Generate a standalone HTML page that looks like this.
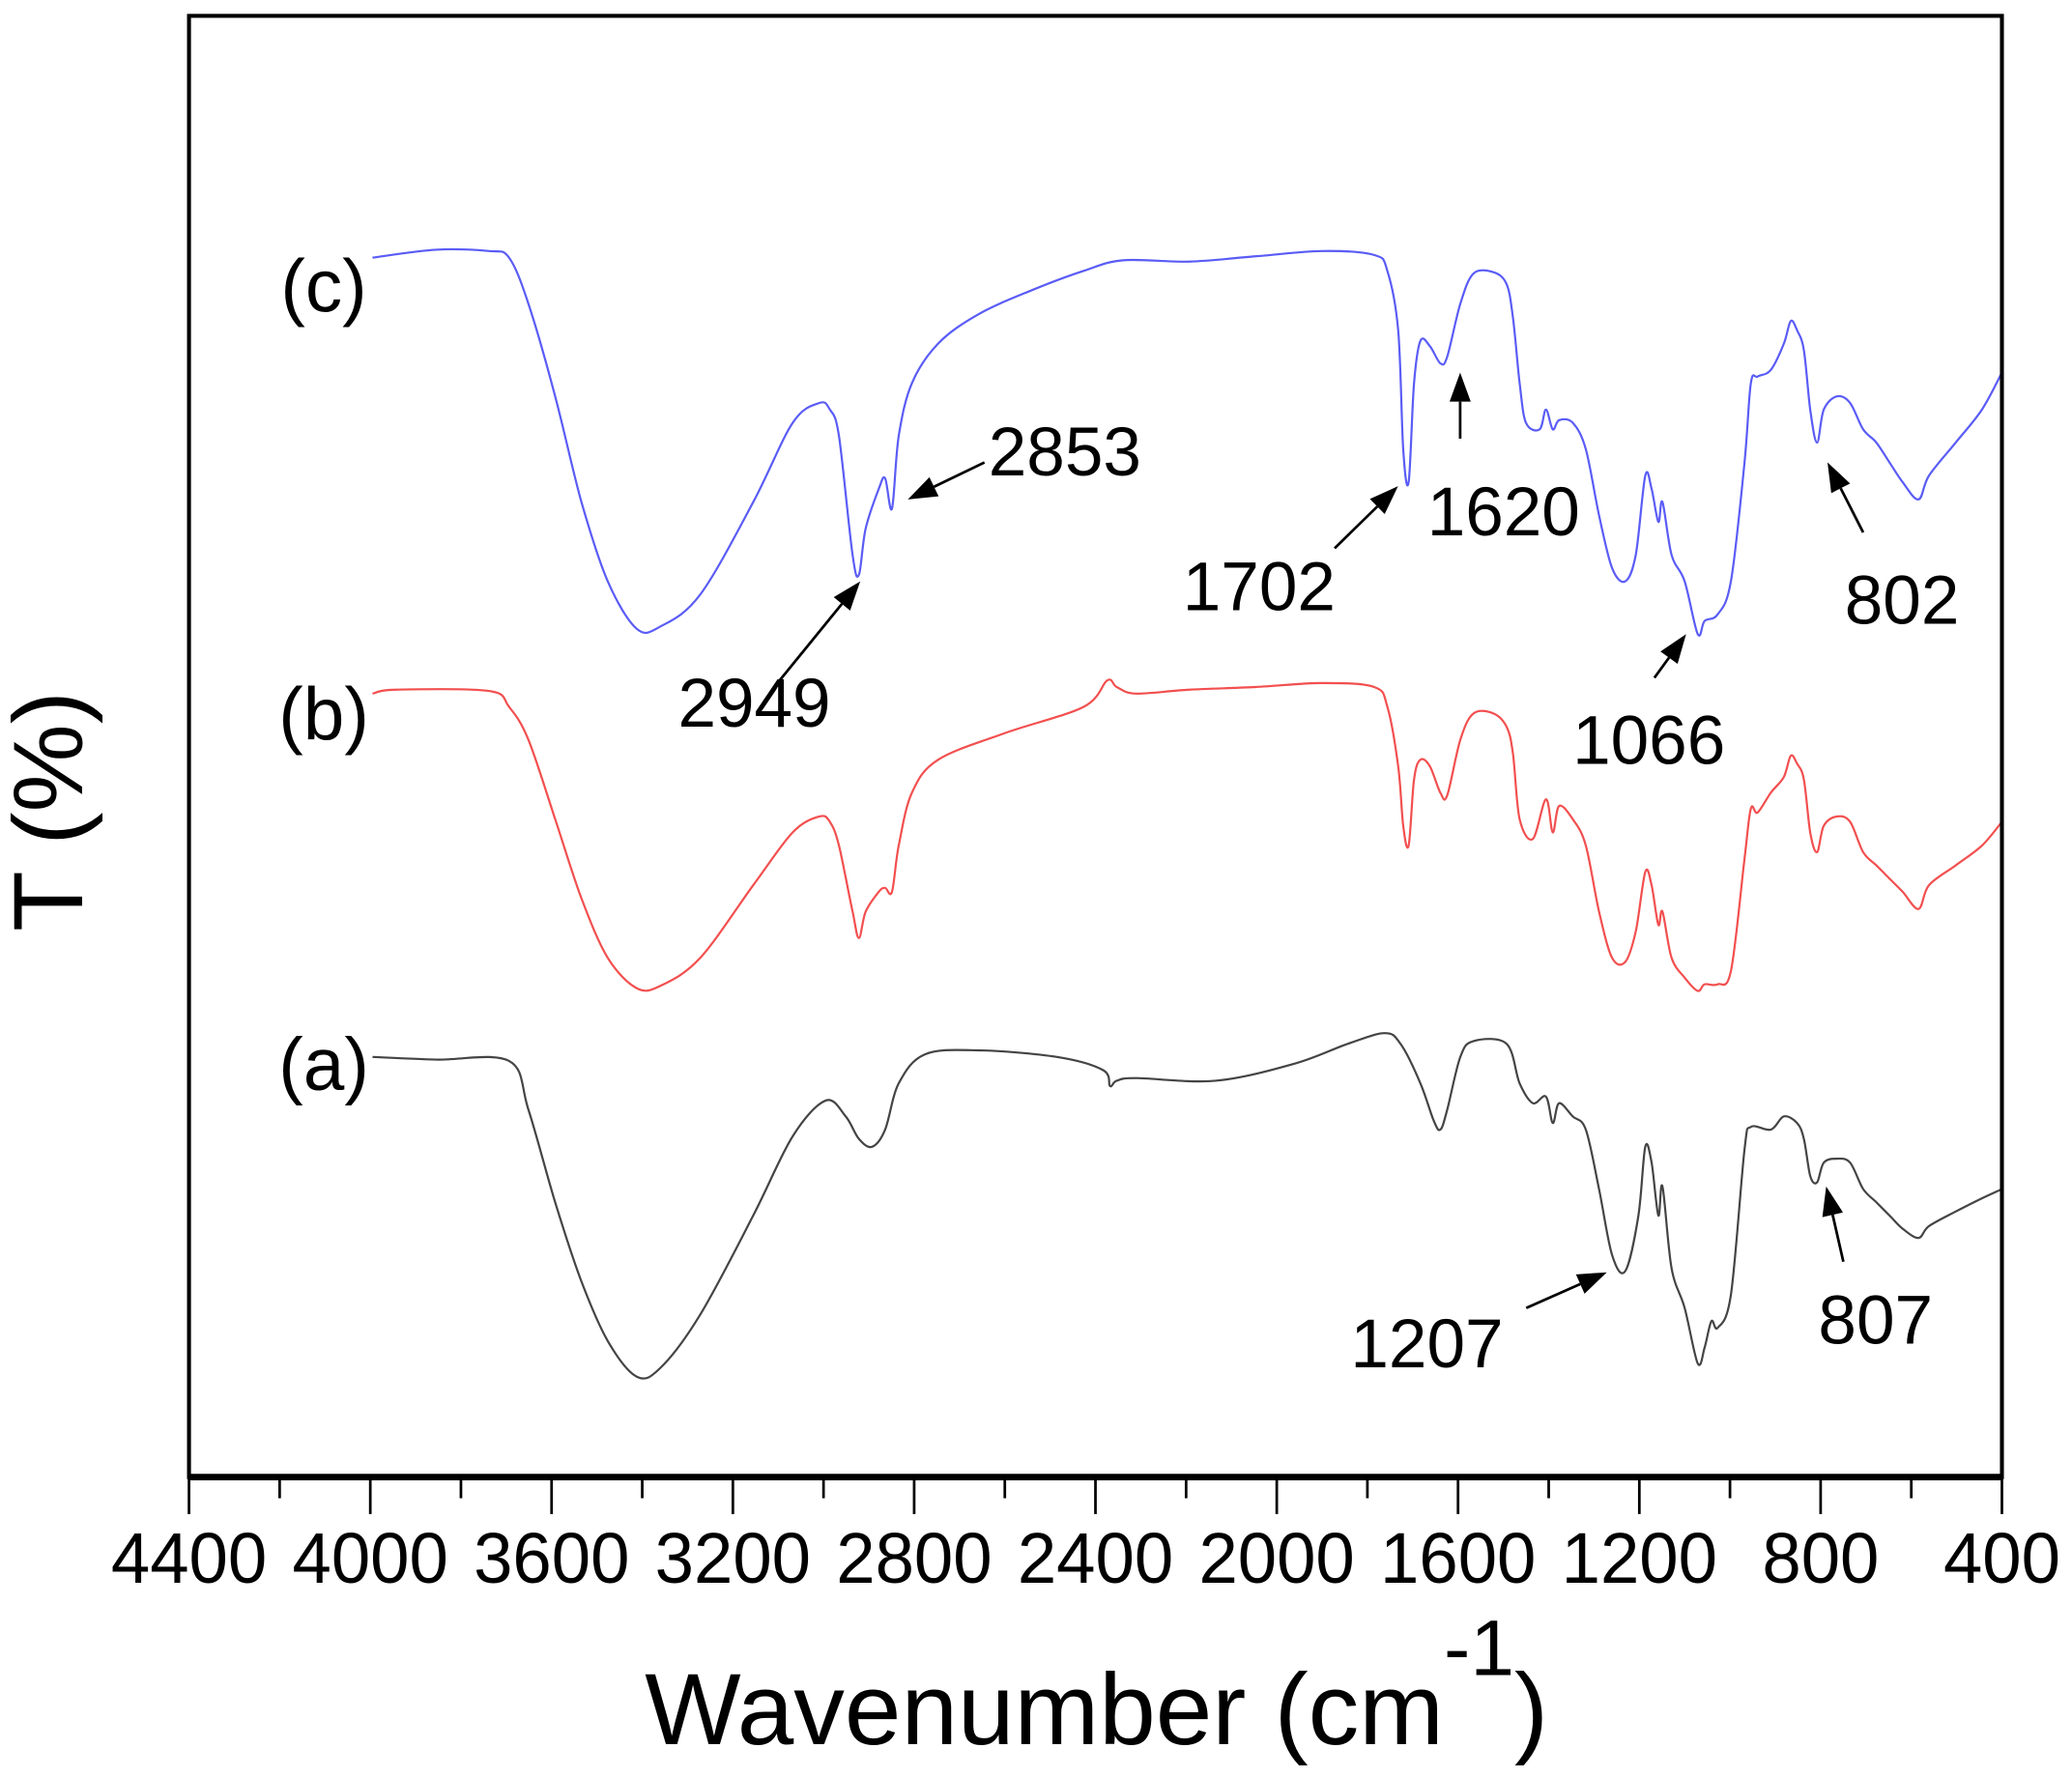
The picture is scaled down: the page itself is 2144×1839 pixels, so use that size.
<!DOCTYPE html>
<html><head><meta charset="utf-8"><style>
html,body{margin:0;padding:0;background:#fff;}
svg{display:block;}
text{font-family:"Liberation Sans",sans-serif;fill:#000;}
</style></head><body>
<svg id="chart" width="2144" height="1839" viewBox="0 0 1568 1345" xmlns="http://www.w3.org/2000/svg">
<rect x="0" y="0" width="1568" height="1345" fill="#fff"/>
<g id="plot"></g>
<g id="axes"></g>
<g id="annot"></g>
<text x="488" y="1320" font-size="77">Wavenumber (cm<tspan font-size="60" dy="-52">-1</tspan><tspan dy="52">)</tspan></text>
<text transform="translate(62,614) rotate(-90)" text-anchor="middle" font-size="75">T (%)</text>
</svg>
<script>
const xTicks = [4400,4000,3600,3200,2800,2400,2000,1600,1200,800,400];
const minorTicks = [4200,3800,3400,3000,2600,2200,1800,1400,1000,600];
const wnC = [3995,3855,3738,3694,3651,3592,3534,3476,3412,3359,3272,3155,3068,3009,2986,2966,2936,2922,2907,2878,2864,2849,2834,2805,2747,2659,2543,2426,2339,2193,2047,1901,1785,1756,1732,1721,1709,1697,1683,1662,1639,1624,1595,1566,1522,1493,1479,1464,1450,1420,1406,1391,1377,1347,1318,1289,1260,1231,1208,1187,1173,1158,1149,1129,1100,1071,1056,1027,998,968,954,939,910,881,866,852,837,823,808,793,764,735,706,677,648,619,584,561,502,444,400];
const tC = [92.3,92.9,92.8,92.3,88.8,81.8,73.8,67.8,64.2,64.4,66.8,73.8,79.8,81.3,80.8,78.8,69.8,68.3,71.8,74.8,75.6,73.3,78.8,82.8,85.8,88.0,89.8,91.3,92.1,92.0,92.4,92.8,92.5,91.3,86.8,77.8,75.3,82.8,86.0,85.6,84.3,84.8,88.8,91.1,91.2,90.3,87.8,82.8,79.8,79.3,80.8,79.3,80.0,79.8,77.8,72.8,68.8,67.8,69.8,75.8,74.8,72.3,73.8,69.8,67.8,63.8,64.8,65.3,67.8,76.8,82.8,83.3,83.8,85.8,87.5,86.8,85.3,80.8,78.3,80.8,81.8,81.3,79.3,78.3,76.8,75.3,74.0,75.8,78.3,80.8,83.6];
const wnB = [3995,3942,3738,3694,3651,3592,3534,3476,3412,3359,3272,3155,3068,3009,2986,2966,2936,2922,2907,2878,2864,2849,2834,2805,2747,2601,2426,2374,2353,2310,2193,2047,1901,1785,1756,1732,1721,1709,1697,1683,1662,1639,1624,1595,1566,1522,1493,1479,1464,1435,1406,1391,1377,1347,1318,1289,1260,1231,1208,1187,1173,1158,1149,1129,1100,1071,1056,1027,998,968,954,939,910,881,866,852,837,823,808,793,764,735,706,677,648,619,584,561,502,444,400];
const tB = [59.3,59.6,59.5,58.3,55.8,49.8,43.8,39.3,37.0,37.2,39.3,44.8,48.8,50.0,49.6,47.8,42.8,40.8,42.8,44.3,44.6,44.3,47.8,51.8,54.3,56.3,58.3,60.3,59.8,59.3,59.6,59.8,60.1,59.8,58.3,53.8,49.3,47.8,52.8,54.3,53.8,51.8,51.6,55.8,57.8,57.8,56.8,54.8,49.8,48.3,51.3,48.8,50.8,49.8,47.8,42.8,39.3,39.0,41.3,45.8,44.8,41.8,42.8,39.3,37.8,36.8,37.3,37.3,38.3,46.8,50.6,50.3,51.8,53.0,54.6,54.0,52.8,48.8,47.3,49.3,50.0,49.6,47.3,46.3,45.3,44.3,43.0,44.8,46.3,47.8,49.6];
const wnA = [3995,3855,3694,3651,3592,3534,3476,3412,3359,3272,3155,3068,2995,2951,2922,2893,2864,2834,2776,2659,2485,2383,2368,2353,2310,2135,1960,1843,1762,1727,1683,1654,1639,1624,1595,1566,1493,1464,1435,1406,1391,1377,1347,1318,1289,1260,1231,1202,1187,1173,1158,1149,1129,1100,1071,1056,1041,1027,998,968,954,910,881,852,837,823,808,793,764,735,706,677,648,619,584,561,502,444,400];
const tA = [31.8,31.6,31.5,27.8,20.8,14.8,10.3,7.6,8.3,12.3,19.8,25.8,28.5,27.3,25.6,25.0,26.3,29.8,32.0,32.3,31.8,30.8,29.6,30.0,30.2,30.0,31.3,32.8,33.6,32.8,29.8,27.0,26.3,27.8,31.8,33.0,32.8,29.8,28.3,28.8,26.8,28.3,27.3,26.3,21.8,16.8,15.6,19.8,25.0,23.8,19.8,22.0,15.8,12.8,8.6,9.8,11.8,11.3,13.8,24.8,26.5,26.3,27.3,26.8,25.6,22.8,22.3,23.8,24.1,23.8,21.8,20.8,19.8,18.8,18.1,19.0,20.1,21.1,21.8];
const peakLabels = ["2853","2949","1702","1620","1066","802","1207","807"];

const X0=143, X1=1515, Y0=12, Y1=1118;
function xs(w){ return X0 + (4400 - w) * (X1 - X0) / 4000; }
function ys(t){ return Y1 - t * 10; }
const NS="http://www.w3.org/2000/svg";
function mk(tag, parent){ const e=document.createElementNS(NS,tag); parent.appendChild(e); return e; }

function smoothPath(pts){
  let d='M'+pts[0][0].toFixed(1)+','+pts[0][1].toFixed(1);
  for(let i=0;i<pts.length-1;i++){
    const p0=pts[Math.max(0,i-1)], p1=pts[i], p2=pts[i+1], p3=pts[Math.min(pts.length-1,i+2)];
    const k=1/6;
    const c1x=p1[0]+(p2[0]-p0[0])*k, c1y=p1[1]+(p2[1]-p0[1])*k;
    const c2x=p2[0]-(p3[0]-p1[0])*k, c2y=p2[1]-(p3[1]-p1[1])*k;
    d+='C'+c1x.toFixed(1)+','+c1y.toFixed(1)+' '+c2x.toFixed(1)+','+c2y.toFixed(1)+' '+p2[0].toFixed(1)+','+p2[1].toFixed(1);
  }
  return d;
}

const plot=document.getElementById('plot');
function drawSeries(wn, t, color, name){
  const p=mk('path',plot);
  
  
  p.setAttribute('d', smoothPath(wn.map((w,i)=>[xs(w), ys(t[i])])));
  p.setAttribute('fill','none'); p.setAttribute('stroke',color); p.setAttribute('stroke-width','1.6');
  p.setAttribute('stroke-linejoin','round');
}
drawSeries(wnC,tC,'#5a5cf5','series-c');
drawSeries(wnB,tB,'#f24f4f','series-b');
drawSeries(wnA,tA,'#444','series-a');

const axes=document.getElementById('axes');
const box=mk('rect',axes);


box.setAttribute('x',X0); box.setAttribute('y',Y0); box.setAttribute('width',X1-X0); box.setAttribute('height',Y1-Y0);
box.setAttribute('fill','none'); box.setAttribute('stroke','#000'); box.setAttribute('stroke-width','3');
const xa=mk('line',axes);


xa.setAttribute('x1',X0); xa.setAttribute('x2',X1); xa.setAttribute('y1',Y1); xa.setAttribute('y2',Y1);
xa.setAttribute('stroke','#000'); xa.setAttribute('stroke-width','5');
xTicks.forEach(v=>{
  const l=mk('line',axes);
  
  
  l.setAttribute('x1',xs(v)); l.setAttribute('x2',xs(v)); l.setAttribute('y1',Y1); l.setAttribute('y2',Y1+28);
  l.setAttribute('stroke','#000'); l.setAttribute('stroke-width','2');
  const t=mk('text',axes);
  
  
  t.setAttribute('x',xs(v)); t.setAttribute('y',1198); t.setAttribute('font-size','54');
  t.setAttribute('text-anchor','middle');
  t.setAttribute('textLength', String(v).length*29.5); t.setAttribute('lengthAdjust','spacingAndGlyphs');
  t.textContent=v;
});
minorTicks.forEach(v=>{
  const l=mk('line',axes);
  
  
  l.setAttribute('x1',xs(v)); l.setAttribute('x2',xs(v)); l.setAttribute('y1',Y1); l.setAttribute('y2',Y1+16);
  l.setAttribute('stroke','#000'); l.setAttribute('stroke-width','2');
});

const an=document.getElementById('annot');
[["(c)",245,236],["(b)",245,560],["(a)",245,825]].forEach(d=>{
  const t=mk('text',an);
  
  
  t.setAttribute('x',d[1]); t.setAttribute('y',d[2]); t.setAttribute('font-size','56'); t.setAttribute('text-anchor','middle');
  t.textContent=d[0];
});
const labelPos=[[748,360],[513,550],[895,462],[1080,405],[1190,578],[1396,472],[1022,1035],[1376,1017]];
const arrows=[[745,350,687,378],[590,515,651,440],[1010,415,1058,368],[1105,332,1105,282],[1252,513,1276,480],[1410,403,1383,350],[1155,990,1216,963],[1395,955,1382,898]];
peakLabels.forEach((s,i)=>{
  const t=mk('text',an);
  
  
  t.setAttribute('x',labelPos[i][0]); t.setAttribute('y',labelPos[i][1]); t.setAttribute('font-size','52');
  t.textContent=s;
  const a=arrows[i];
  const dx=a[2]-a[0], dy=a[3]-a[1], L=Math.hypot(dx,dy), ux=dx/L, uy=dy/L;
  const hl=22, hw=8;
  const bx=a[2]-ux*hl, by=a[3]-uy*hl;
  const ln=mk('line',an);
  
  
  ln.setAttribute('x1',a[0]); ln.setAttribute('y1',a[1]); ln.setAttribute('x2',bx); ln.setAttribute('y2',by);
  ln.setAttribute('stroke','#000'); ln.setAttribute('stroke-width','2');
  const hd=mk('polygon',an);
  
  
  hd.setAttribute('points',`${a[2]},${a[3]} ${bx-uy*hw},${by+ux*hw} ${bx+uy*hw},${by-ux*hw}`);
  hd.setAttribute('fill','#000');
});
</script>
</body></html>
